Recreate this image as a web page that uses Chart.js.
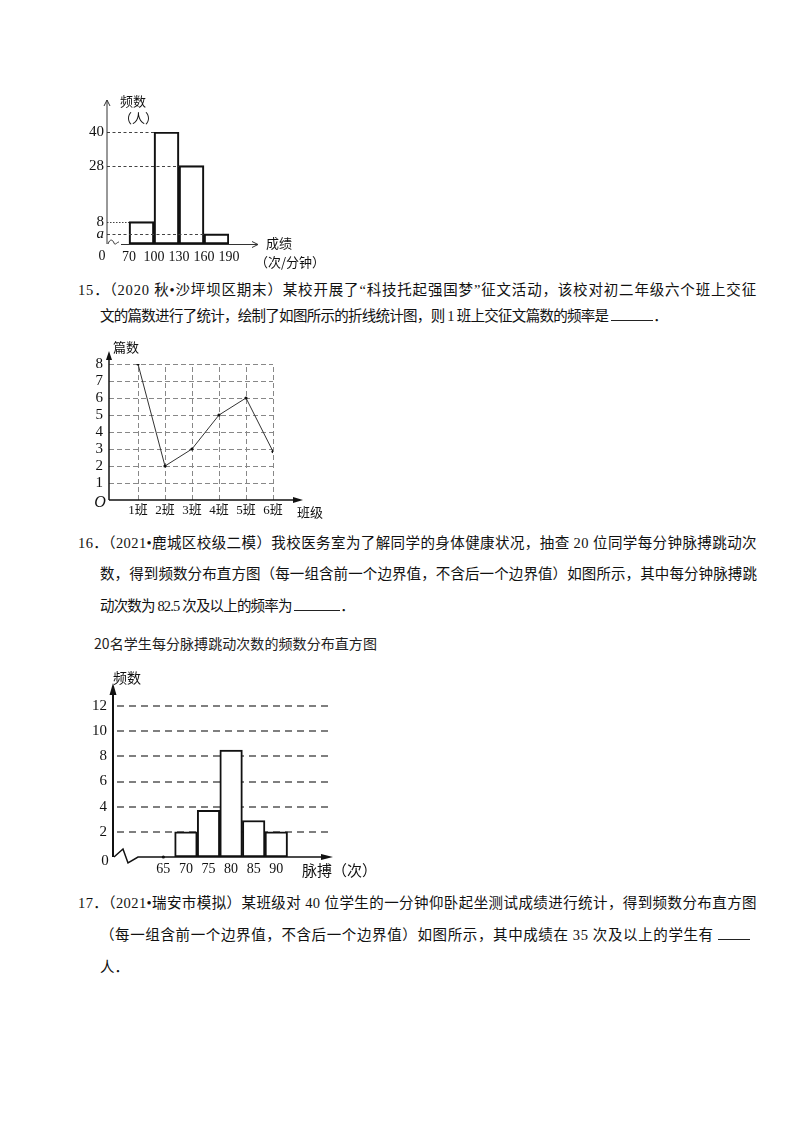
<!DOCTYPE html>
<html>
<head>
<meta charset="utf-8">
<script src="https://cdn.jsdelivr.net/npm/chart.js@4.4.0/dist/chart.umd.min.js"></script>
<style>
html,body{margin:0;padding:0;background:#fff;}
body{width:800px;height:1132px;position:relative;overflow:hidden;}
.ln{position:absolute;font-family:"Liberation Serif","Noto Sans CJK SC",serif;font-size:14.5px;line-height:20px;color:#111;white-space:nowrap;}
.u{display:inline-block;border-bottom:1px solid #222;height:14px;vertical-align:baseline;letter-spacing:0;}
canvas{position:absolute;}
.ttl{position:absolute;font-family:"Noto Sans CJK SC",sans-serif;font-size:14px;line-height:18px;color:#222;white-space:nowrap;}
</style>
</head>
<body>
<canvas id="c1" width="310" height="195" style="left:50px;top:85px;"></canvas>

<div class="ln fit" data-w="679" style="left:78px;top:280px;">15．（2020 秋•沙坪坝区期末）某校开展了“科技托起强国梦”征文活动，该校对初二年级六个班上交征</div>
<div class="ln fit" data-w="567" style="left:100px;top:306px;">文的篇数进行了统计，绘制了如图所示的折线统计图，则 1 班上交征文篇数的频率是 <span class="u" style="width:42px;"></span>．</div>

<canvas id="c2" width="300" height="200" style="left:50px;top:330px;"></canvas>

<div class="ln fit" data-w="679" style="left:78px;top:533px;">16．（2021•鹿城区校级二模）我校医务室为了解同学的身体健康状况，抽查 20 位同学每分钟脉搏跳动次</div>
<div class="ln fit" data-w="657" style="left:100px;top:564px;">数，得到频数分布直方图（每一组含前一个边界值，不含后一个边界值）如图所示，其中每分钟脉搏跳</div>
<div class="ln fit" data-w="254" style="left:100px;top:596px;">动次数为 82.5 次及以上的频率为 <span class="u" style="width:46px;"></span>．</div>

<div class="ttl fit" data-w="283" style="left:94px;top:634px;">20名学生每分脉搏跳动次数的频数分布直方图</div>
<canvas id="c3" width="350" height="225" style="left:50px;top:660px;"></canvas>

<div class="ln fit" data-w="679" style="left:78px;top:893px;">17．（2021•瑞安市模拟）某班级对 40 位学生的一分钟仰卧起坐测试成绩进行统计，得到频数分布直方图</div>
<div class="ln fit" data-w="650" style="left:100px;top:925px;">（每一组含前一个边界值，不含后一个边界值）如图所示，其中成绩在 35 次及以上的学生有 <span class="u" style="width:32px;"></span></div>
<div class="ln" style="left:100px;top:957px;">人．</div>

<script>
// fit text lines to the widths seen in the reference
document.querySelectorAll('.fit').forEach(el => {
  const target = +el.dataset.w;
  el.style.letterSpacing = '0px';
  const nat = el.getBoundingClientRect().width;
  const n = el.textContent.length;
  el.style.letterSpacing = ((target - nat) / n).toFixed(3) + 'px';
});

// ---------- DATA ----------
// Chart 1 (histogram, 成绩)
const bins1Left = [70, 100, 130, 160];
const binWidth1 = 30;
const freq1 = [8, 40, 28, 3.6];          // last bar height is "a"
const aValue = 3.6;
const xTicks1 = [70, 100, 130, 160, 190];
const yTicks1 = [3.6, 8, 28, 40];

// Chart 2 (line chart, 篇数)
const classes2 = ['1班', '2班', '3班', '4班', '5班', '6班'];
const counts2 = [8, 2, 3, 5, 6, 2.85];
const yTicks2 = [1, 2, 3, 4, 5, 6, 7, 8];

// Chart 3 (histogram, 脉搏)
const bins3Mid = [70, 75, 80, 85, 90];
const freq3 = [2, 3.7, 8.5, 2.9, 2];
const xTicks3 = [65, 70, 75, 80, 85, 90];
const yTicks3 = [2, 4, 6, 8, 10, 12];

// ---------- HELPERS ----------
const SERIF = '"Liberation Serif","Noto Sans CJK SC",serif';
const CJK = '"Noto Sans CJK SC",sans-serif';

function arrowFilled(ctx, x, y, dir, len, half) {
  ctx.beginPath();
  if (dir === 'up') { ctx.moveTo(x, y); ctx.lineTo(x - half, y + len); ctx.lineTo(x + half, y + len); }
  else { ctx.moveTo(x, y); ctx.lineTo(x - len, y - half); ctx.lineTo(x - len, y + half); }
  ctx.closePath(); ctx.fill();
}
function arrowOpen(ctx, x, y, dir, len, half) {
  ctx.beginPath();
  if (dir === 'up') { ctx.moveTo(x - half, y + len); ctx.lineTo(x, y); ctx.lineTo(x + half, y + len); }
  else { ctx.moveTo(x - len, y - half); ctx.lineTo(x, y); ctx.lineTo(x - len, y + half); }
  ctx.stroke();
}
function txt(ctx, s, x, y, font, align) {
  ctx.font = font; ctx.textAlign = align || 'left'; ctx.textBaseline = 'middle'; ctx.fillStyle = '#111';
  ctx.fillText(s, x, y);
}
function fixedTicks(arr) { return s => { s.ticks = arr.map(v => ({ value: v })); }; }

const common = {
  responsive: false, animation: false, events: [],
  plugins: { legend: { display: false }, tooltip: { enabled: false } }
};

// ---------- CHART 1 ----------
const plugin1 = {
  id: 'p1',
  afterDatasetsDraw(chart) {
    const { ctx, chartArea: ca, scales: { x, y } } = chart;
    const L = ca.left, B = ca.bottom, T = ca.top, R = ca.right;
    ctx.save();
    ctx.strokeStyle = '#444'; ctx.lineWidth = 1;
    bins1Left.forEach((b, i) => {
      ctx.setLineDash(freq1[i] === 8 ? [1.5, 1.5] : [3, 2.5]);
      const py = Math.round(y.getPixelForValue(freq1[i])) + 0.5;
      ctx.beginPath(); ctx.moveTo(L, py); ctx.lineTo(x.getPixelForValue(b), py); ctx.stroke();
    });
    ctx.setLineDash([]);
    ctx.strokeStyle = '#333'; ctx.lineWidth = 1;
    ctx.beginPath(); ctx.moveTo(L, B); ctx.lineTo(L, T - 32); ctx.stroke();
    arrowOpen(ctx, L, T - 32, 'up', 6, 3);
    ctx.beginPath(); ctx.moveTo(L + 1, B);
    ctx.bezierCurveTo(L + 3, B - 6, L + 6, B - 4, L + 7, B - 1);
    ctx.bezierCurveTo(L + 8, B + 2, L + 10, B - 2, L + 12, B - 2);
    ctx.stroke();
    ctx.beginPath(); ctx.moveTo(L + 14, B + 0.5); ctx.lineTo(R + 29, B + 0.5); ctx.stroke();
    arrowOpen(ctx, R + 29, B + 0.5, 'right', 6, 3);
    txt(ctx, '频数', L + 13, T - 31, '13px ' + CJK);
    txt(ctx, '（人）', L + 12, T - 14, '13px ' + CJK);
    txt(ctx, '成绩', R + 37, B - 1, '13px ' + CJK);
    txt(ctx, '（次/分钟）', R + 26, B + 18, '13px ' + CJK);
    txt(ctx, '0', L - 5, B + 12, '14px ' + SERIF, 'center');
    ctx.restore();
  }
};
new Chart(document.getElementById('c1'), {
  type: 'bar',
  data: { datasets: [{
    data: bins1Left.map((b, i) => ({ x: b + binWidth1 / 2, y: freq1[i] })),
    backgroundColor: 'rgba(0,0,0,0)', borderColor: '#111', borderWidth: 1.5,
    borderSkipped: false, barPercentage: 1, categoryPercentage: 1
  }] },
  options: Object.assign({}, common, {
    layout: { padding: { top: 47, right: 131, left: 0, bottom: 0 } },
    scales: {
      x: { type: 'linear', min: 43.6, max: 190, offset: false,
        grid: { display: false, drawTicks: false, offset: false }, border: { display: false },
        afterBuildTicks: fixedTicks(xTicks1), afterFit: s => { s.height = 36; },
        ticks: { autoSkip: false, maxRotation: 0, padding: 5, color: '#111', font: { family: SERIF, size: 14 } } },
      y: { type: 'linear', min: 0, max: 40,
        grid: { display: false, drawTicks: false }, border: { display: false },
        afterBuildTicks: fixedTicks(yTicks1), afterFit: s => { s.width = 57; },
        ticks: { autoSkip: false, padding: 3, color: '#111',
          callback: v => (v === aValue ? 'a' : String(v)),
          font: c => (c.tick && c.tick.value === aValue) ? { family: SERIF, size: 15, style: 'italic' } : { family: SERIF, size: 15 } } }
    }
  }),
  plugins: [plugin1]
});

// ---------- CHART 2 ----------
const plugin2 = {
  id: 'p2',
  beforeDatasetsDraw(chart) {
    const { ctx, chartArea: ca, scales: { x, y } } = chart;
    ctx.save();
    ctx.strokeStyle = '#888'; ctx.lineWidth = 1; ctx.setLineDash([5, 3]);
    const xr = x.getPixelForValue(classes2.length);
    yTicks2.forEach(v => {
      const py = Math.round(y.getPixelForValue(v)) + 0.5;
      ctx.beginPath(); ctx.moveTo(ca.left, py); ctx.lineTo(xr, py); ctx.stroke();
    });
    classes2.forEach((c, i) => {
      const px = Math.round(x.getPixelForValue(i + 1)) + 0.5;
      ctx.beginPath(); ctx.moveTo(px, ca.bottom); ctx.lineTo(px, y.getPixelForValue(8)); ctx.stroke();
    });
    ctx.restore();
  },
  afterDatasetsDraw(chart) {
    const { ctx, chartArea: ca } = chart;
    const L = ca.left, B = ca.bottom, T = ca.top, R = ca.right;
    ctx.save();
    ctx.strokeStyle = '#111'; ctx.fillStyle = '#111'; ctx.lineWidth = 1.5;
    ctx.beginPath(); ctx.moveTo(L, B); ctx.lineTo(L, T - 6); ctx.stroke();
    arrowFilled(ctx, L, T - 13, 'up', 9, 3);
    ctx.beginPath(); ctx.moveTo(L, B); ctx.lineTo(R + 22, B); ctx.stroke();
    arrowFilled(ctx, R + 30, B, 'right', 10, 3);
    txt(ctx, '篇数', L + 4, T - 17, '13px ' + CJK);
    txt(ctx, '班级', R + 24, B + 12, '13px ' + CJK);
    txt(ctx, 'O', L - 9, B + 3, 'italic 16px ' + SERIF, 'center');
    ctx.restore();
  }
};
new Chart(document.getElementById('c2'), {
  type: 'line',
  data: { datasets: [{
    data: counts2.map((v, i) => ({ x: i + 1, y: v })),
    borderColor: '#333', borderWidth: 1, tension: 0,
    pointRadius: 1.6, pointBackgroundColor: '#111', pointBorderWidth: 0
  }] },
  options: Object.assign({}, common, {
    layout: { padding: { top: 34, right: 77, left: 0, bottom: 0 } },
    scales: {
      x: { type: 'linear', min: -0.074, max: 6, offset: false,
        grid: { display: false, drawTicks: false }, border: { display: false },
        afterBuildTicks: fixedTicks([1, 2, 3, 4, 5, 6]), afterFit: s => { s.height = 30; },
        ticks: { autoSkip: false, maxRotation: 0, padding: 3, color: '#111',
          callback: v => classes2[v - 1], font: { family: SERIF, size: 13 } } },
      y: { type: 'linear', min: 0, max: 8,
        grid: { display: false, drawTicks: false }, border: { display: false },
        afterBuildTicks: fixedTicks(yTicks2), afterFit: s => { s.width = 59; },
        ticks: { autoSkip: false, padding: 6, color: '#111', font: { family: SERIF, size: 15 } } }
    }
  }),
  plugins: [plugin2]
});

// ---------- CHART 3 ----------
const plugin3 = {
  id: 'p3',
  beforeDatasetsDraw(chart) {
    const { ctx, chartArea: ca, scales: { y } } = chart;
    ctx.save();
    ctx.strokeStyle = '#555'; ctx.lineWidth = 1.5; ctx.setLineDash([7, 5]);
    yTicks3.forEach(v => {
      const py = Math.round(y.getPixelForValue(v));
      ctx.beginPath(); ctx.moveTo(ca.left + 4, py); ctx.lineTo(ca.right, py); ctx.stroke();
    });
    ctx.restore();
  },
  afterDatasetsDraw(chart) {
    const { ctx, chartArea: ca, scales: { x } } = chart;
    const L = ca.left, B = ca.bottom, T = ca.top, R = ca.right;
    ctx.save();
    ctx.strokeStyle = '#111'; ctx.fillStyle = '#111'; ctx.lineWidth = 2;
    ctx.beginPath(); ctx.moveTo(L, B); ctx.lineTo(L, T - 14); ctx.stroke();
    arrowFilled(ctx, L, T - 23, 'up', 12, 3.5);
    ctx.lineWidth = 1.5;
    ctx.beginPath(); ctx.moveTo(L + 1, B); ctx.lineTo(L + 10, B - 8); ctx.lineTo(L + 15, B + 6);
    ctx.lineTo(L + 25, B); ctx.lineTo(R - 8, B); ctx.stroke();
    arrowFilled(ctx, R + 3, B, 'right', 12, 3);
    ctx.beginPath(); ctx.arc(x.getPixelForValue(xTicks3[0]), B, 1.6, 0, Math.PI * 2); ctx.fill();
    txt(ctx, '频数', L, T - 28, '14px ' + CJK);
    txt(ctx, '脉搏（次）', R - 28, B + 13, '15px ' + CJK);
    txt(ctx, '0', L - 8, B + 4, '15px ' + SERIF, 'center');
    ctx.restore();
  }
};
new Chart(document.getElementById('c3'), {
  type: 'bar',
  data: { datasets: [{
    data: bins3Mid.map((m, i) => ({ x: m, y: freq3[i] })),
    backgroundColor: '#fff', borderColor: '#111', borderWidth: 2,
    borderSkipped: false, barPercentage: 1, categoryPercentage: 1
  }] },
  options: Object.assign({}, common, {
    layout: { padding: { top: 46, right: 70, left: 0, bottom: 0 } },
    scales: {
      x: { type: 'linear', min: 53.85, max: 101.9, offset: false,
        grid: { display: false, drawTicks: false, offset: false }, border: { display: false },
        afterBuildTicks: fixedTicks(xTicks3), afterFit: s => { s.height = 28; },
        ticks: { autoSkip: false, maxRotation: 0, padding: 4, color: '#111', font: { family: SERIF, size: 14 } } },
      y: { type: 'linear', min: 0, max: 12,
        grid: { display: false, drawTicks: false }, border: { display: false },
        afterBuildTicks: fixedTicks(yTicks3), afterFit: s => { s.width = 63; },
        ticks: { autoSkip: false, padding: 6, color: '#111', font: { family: SERIF, size: 15 } } }
    }
  }),
  plugins: [plugin3]
});
</script>
</body>
</html>
